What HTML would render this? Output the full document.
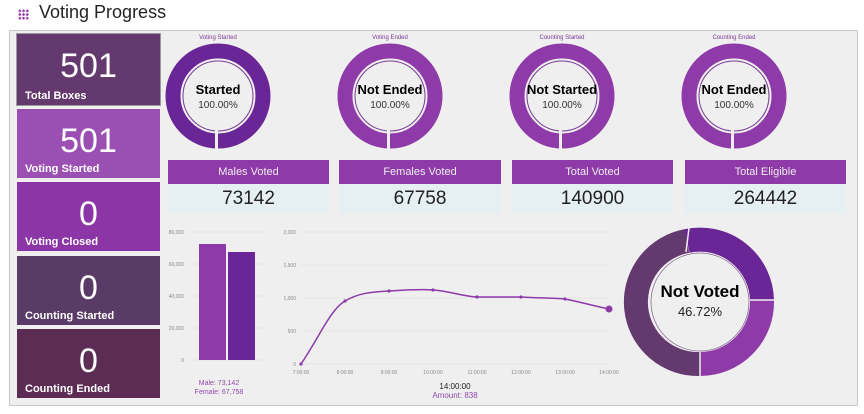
<!DOCTYPE html>
<html><head><meta charset="utf-8"><style>
body{margin:0;width:864px;height:414px;background:#fff;font-family:"Liberation Sans",sans-serif;overflow:hidden;position:relative}
.t{position:absolute;left:17px;width:143px;color:#fff}
.t .n{position:absolute;left:0;right:0;top:13px;text-align:center;font-size:34px}
.t .l{position:absolute;left:8px;bottom:3px;font-size:11px;font-weight:bold}
.h{position:absolute;height:24px;background:#8e3aa8;color:#eee;font-size:11px;text-align:center;line-height:24px}
.v{position:absolute;height:30px;background:#e6eff2;color:#222;font-size:19px;text-align:center;line-height:30px}
.c{position:absolute;width:100px;text-align:center;font-weight:900;color:#000;font-size:13px;top:82px;z-index:2}
</style></head><body>
<div style="position:absolute;left:18px;top:9px;width:11px;height:11px;background:radial-gradient(circle,#9b3bb0 1.2px,transparent 1.4px) 0 0/3.7px 3.7px"></div>
<div style="position:absolute;left:39px;top:2px;font-size:18px;color:#222">Voting Progress</div>
<div style="position:absolute;left:9px;top:30px;width:847px;height:374px;background:#efefef;border:1px solid #c8c8c8"></div>
<div class="t" style="top:34px;height:71px;background:#643a6e;outline:1px solid #999"><div class="n">501</div><div class="l">Total Boxes</div></div>
<div class="t" style="top:109px;height:69px;background:#9b4fb3"><div class="n">501</div><div class="l">Voting Started</div></div>
<div class="t" style="top:182px;height:69px;background:#8c35a7"><div class="n">0</div><div class="l">Voting Closed</div></div>
<div class="t" style="top:256px;height:69px;background:#5a3a66"><div class="n">0</div><div class="l">Counting Started</div></div>
<div class="t" style="top:329px;height:69px;background:#5c2c55"><div class="n">0</div><div class="l">Counting Ended</div></div>

<div class="h" style="left:168px;top:160px;width:161px">Males Voted</div><div class="v" style="left:168px;top:184px;width:161px">73142</div>
<div class="h" style="left:339px;top:160px;width:162px">Females Voted</div><div class="v" style="left:339px;top:184px;width:162px">67758</div>
<div class="h" style="left:512px;top:160px;width:161px">Total Voted</div><div class="v" style="left:512px;top:184px;width:161px">140900</div>
<div class="h" style="left:685px;top:160px;width:161px">Total Eligible</div><div class="v" style="left:685px;top:184px;width:161px">264442</div>

<svg width="864" height="414" style="position:absolute;left:0;top:0" font-family="Liberation Sans, sans-serif">
<g font-size="6" fill="#7a3a95" text-anchor="middle">
<text x="218" y="39">Voting Started</text><text x="390" y="39">Voting Ended</text><text x="562" y="39">Counting Started</text><text x="734" y="39">Counting Ended</text></g>
<g>
<circle cx="218" cy="96" r="45" fill="none" stroke="#6a2596" stroke-width="15"/>
<circle cx="390" cy="96" r="45" fill="none" stroke="#8e3aa8" stroke-width="15"/>
<circle cx="562" cy="96" r="45" fill="none" stroke="#8e3aa8" stroke-width="15"/>
<circle cx="734" cy="96" r="45" fill="none" stroke="#8e3aa8" stroke-width="15"/>
</g>
<g fill="none" stroke="#7a3a95" stroke-width="1">
<circle cx="218" cy="96" r="35"/><circle cx="390" cy="96" r="35"/><circle cx="562" cy="96" r="35"/><circle cx="734" cy="96" r="35"/></g>
<g fill="#efefef"><rect x="215" y="130" width="3" height="20"/><rect x="387" y="130" width="3" height="20"/><rect x="559" y="130" width="3" height="20"/><rect x="731" y="130" width="3" height="20"/></g>
<g text-anchor="middle" font-size="10" fill="#333"><text x="218" y="108">100.00%</text><text x="390" y="108">100.00%</text><text x="562" y="108">100.00%</text><text x="734" y="108">100.00%</text></g>

<g stroke="#ddd" stroke-width="0.6"><line x1="190" y1="232" x2="265" y2="232"/><line x1="190" y1="264" x2="265" y2="264"/><line x1="190" y1="296" x2="265" y2="296"/><line x1="190" y1="328" x2="265" y2="328"/><line x1="190" y1="360" x2="265" y2="360"/></g>
<g font-size="5" fill="#888" text-anchor="end"><text x="184" y="234">80,000</text><text x="184" y="266">60,000</text><text x="184" y="298">40,000</text><text x="184" y="330">20,000</text><text x="184" y="362">0</text></g>
<rect x="199" y="244" width="27" height="116" fill="#8e3aa8"/><rect x="228" y="252" width="27" height="108" fill="#6a2596"/>
<g font-size="7" fill="#8e4aa8" text-anchor="middle"><text x="219" y="385">Male: 73,142</text><text x="219" y="394">Female: 67,758</text></g>

<g stroke="#ddd" stroke-width="0.6"><line x1="301" y1="232" x2="610" y2="232"/><line x1="301" y1="265" x2="610" y2="265"/><line x1="301" y1="298" x2="610" y2="298"/><line x1="301" y1="331" x2="610" y2="331"/><line x1="301" y1="364" x2="610" y2="364"/></g>
<g font-size="5" fill="#888" text-anchor="end"><text x="296" y="234">2,000</text><text x="296" y="267">1,500</text><text x="296" y="300">1,000</text><text x="296" y="333">500</text><text x="296" y="366">0</text></g>
<g font-size="5" fill="#888" text-anchor="middle"><text x="301" y="374">7:00:00</text><text x="345" y="374">8:00:00</text><text x="389" y="374">9:00:00</text><text x="433" y="374">10:00:00</text><text x="477" y="374">11:00:00</text><text x="521" y="374">12:00:00</text><text x="565" y="374">13:00:00</text><text x="609" y="374">14:00:00</text></g>
<path d="M301,364 C320,336 330,310 345,301 C360,292 375,292 389,291 C405,290 420,289 433,290 C450,291 460,296 477,297 L521,297 C540,298 550,298 565,299 C580,302 595,306 609,309" fill="none" stroke="#8e3aa8" stroke-width="1.5"/>
<g fill="#8e3aa8"><circle cx="301" cy="364" r="1.6"/><circle cx="345" cy="301" r="1.6"/><circle cx="389" cy="291" r="1.6"/><circle cx="433" cy="290" r="1.6"/><circle cx="477" cy="297" r="1.6"/><circle cx="521" cy="297" r="1.6"/><circle cx="565" cy="299" r="1.6"/><circle cx="609" cy="309" r="3.5"/></g>
<text x="455" y="389" font-size="8" fill="#222" text-anchor="middle">14:00:00</text>
<text x="455" y="398" font-size="8" fill="#8e4aa8" text-anchor="middle">Amount: 838</text>

<g stroke-width="24" fill="none">
<path d="M700,364 A62,62 0 0 1 687,241" stroke="#643a6e"/>
<path d="M687,241 A62,62 0 0 1 762,300" stroke="#6a2596"/>
<path d="M762,300 A62,62 0 0 1 700,364" stroke="#8e3aa8"/>
</g>
<g stroke="#efefef" stroke-width="1.5"><line x1="700" y1="352" x2="700" y2="377"/><line x1="689" y1="228" x2="686" y2="252"/><line x1="750" y1="300" x2="775" y2="300"/></g>
<circle cx="700" cy="302" r="49" fill="none" stroke="#8a6a95" stroke-width="0.8"/>
<text x="700" y="316" font-size="13" fill="#222" text-anchor="middle">46.72%</text>
</svg>
<div class="c" style="left:168px">Started</div>
<div class="c" style="left:340px">Not Ended</div>
<div class="c" style="left:512px">Not Started</div>
<div class="c" style="left:684px">Not Ended</div>
<div class="c" style="left:640px;width:120px;top:282px;font-size:17px">Not Voted</div>
</body></html>
